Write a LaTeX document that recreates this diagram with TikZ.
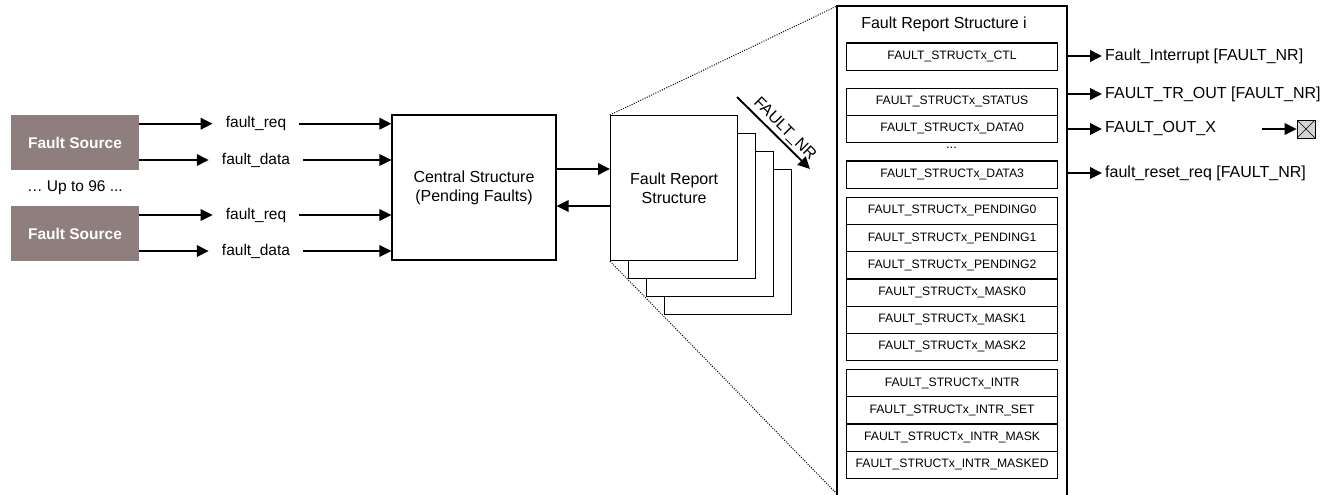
\documentclass[tikz,border=0pt]{standalone}
\usepackage{fontspec}
\setmainfont{Liberation Sans}
\usetikzlibrary{arrows.meta,calc}
\definecolor{srcfill}{HTML}{8E7F7E}
\definecolor{termfill}{HTML}{D4D4D4}
\tikzset{
  sig/.style={line width=1.9pt,-{Triangle[length=12pt,width=11.5pt]}},
  srcbox/.style={fill=srcfill,text=white,font=\fontsize{15.5}{18}\selectfont\bfseries,
    minimum width=128pt,minimum height=55pt,inner sep=0pt},
  blockbox/.style={draw,line width=1.2pt,fill=white,inner sep=0pt,align=center,
    font=\fontsize{16}{19}\selectfont},
  reg/.style={draw,line width=1.2pt,minimum width=211pt,minimum height=27.2pt,
    inner sep=0pt,anchor=north west,font=\fontsize{12.2}{14}\selectfont},
  siglbl/.style={font=\fontsize{15.5}{18}\selectfont,inner xsep=13pt,inner ysep=2pt},
  outlbl/.style={font=\fontsize{16}{19}\selectfont,anchor=west,inner xsep=3pt,inner ysep=2pt},
  zoomline/.style={line width=1pt,dash pattern=on 1pt off 1.4pt}
}
\begin{document}
\begin{tikzpicture}[x=1pt,y=-1pt]
\useasboundingbox (0,0) rectangle (1330,495);
\clip (0,0) rectangle (1330,495);

% fault sources
\node[srcbox] (fs1) at (75,142.5) {Fault Source};
\node[srcbox] (fs2) at (75,233.5) {Fault Source};
\node[font=\fontsize{15.5}{18}\selectfont] (upto) at (75,188) {\ldots{} Up to 96 ...};

% central structure
\node[blockbox,minimum width=164pt,minimum height=145pt] (cs) at (474,187.5)
  {Central Structure\\(Pending Faults)};

% signal labels between sources and central structure
\node[siglbl] (req1)  at (256,123.7) {fault\_req};
\node[siglbl] (data1) at (256,160)   {fault\_data};
\node[siglbl] (req2)  at (256,215)   {fault\_req};
\node[siglbl] (data2) at (256,251)   {fault\_data};

\foreach \l in {req1,data1}{
  \draw[sig] (fs1.east |- \l) -- (\l.west);
  \draw[sig] (\l.east) -- (cs.west |- \l);
}
\foreach \l in {req2,data2}{
  \draw[sig] (fs2.east |- \l) -- (\l.west);
  \draw[sig] (\l.east) -- (cs.west |- \l);
}

% stacked fault report structures (back to front)
\node[blockbox,minimum width=127pt,minimum height=145pt,anchor=north west] (frs4) at (664,169) {};
\node[blockbox,minimum width=127pt,minimum height=145pt,anchor=north west] (frs3) at (646,151) {};
\node[blockbox,minimum width=127pt,minimum height=145pt,anchor=north west] (frs2) at (628,133) {};
\node[blockbox,minimum width=127pt,minimum height=145pt,anchor=north west] (frs) at (610,115)
  {Fault Report\\Structure};

% links between central structure and report structure
\coordinate (fwd) at (0,169);
\coordinate (bwd) at (0,206);
\draw[sig] (cs.east |- fwd) -- (frs.west |- fwd);
\draw[sig] (frs.west |- bwd) -- (cs.east |- bwd);

% instance index arrow
\coordinate (nrA) at (737,97);
\coordinate (nrB) at (810,169);
\draw[sig] (nrA) -- (nrB);
\node[font=\fontsize{16}{19}\selectfont,rotate=-45,anchor=south,inner sep=3pt] (nrlbl)
  at ($(nrA)!0.55!(nrB)$) {FAULT\_NR};

% detailed view of one report structure
\node[draw=none,minimum width=230pt,minimum height=495pt,anchor=north west,inner sep=0pt] (frsi) at (837,6) {};
\draw[line width=2pt] (frsi.south west) -- (frsi.north west) -- (frsi.north east) -- (frsi.south east);
\node[font=\fontsize{16}{19}\selectfont] (title) at (944,24) {Fault Report Structure i};

\node[reg] (ctl)   at (846,42.5)  {FAULT\_STRUCTx\_CTL};
\node[reg] (stat)  at (846,87.5)  {FAULT\_STRUCTx\_STATUS};
\node[reg] (dat0)  at (846,114.7) {FAULT\_STRUCTx\_DATA0};
\node[font=\fontsize{13}{14}\selectfont] (rdots) at (951.5,148) {...};
\node[reg] (dat3)  at (846,160.3) {FAULT\_STRUCTx\_DATA3};
\node[reg] (pnd0)  at (846,196.7) {FAULT\_STRUCTx\_PENDING0};
\node[reg] (pnd1)  at (846,223.9) {FAULT\_STRUCTx\_PENDING1};
\node[reg] (pnd2)  at (846,251.1) {FAULT\_STRUCTx\_PENDING2};
\node[reg] (msk0)  at (846,278.3) {FAULT\_STRUCTx\_MASK0};
\node[reg] (msk1)  at (846,305.5) {FAULT\_STRUCTx\_MASK1};
\node[reg] (msk2)  at (846,332.7) {FAULT\_STRUCTx\_MASK2};
\node[reg] (intr)  at (846,369)   {FAULT\_STRUCTx\_INTR};
\node[reg] (iset)  at (846,396.2) {FAULT\_STRUCTx\_INTR\_SET};
\node[reg] (imsk)  at (846,423.4) {FAULT\_STRUCTx\_INTR\_MASK};
\node[reg] (imskd) at (846,450.6) {FAULT\_STRUCTx\_INTR\_MASKED};

% zoom guides
\coordinate (guideEnd) at (837,494);
\draw[zoomline] (frs.north west) -- (frsi.north west);
\draw[zoomline] (frs.south west) -- (guideEnd);

% outputs
\coordinate (oInt) at (1102,56);
\coordinate (oTr)  at (1102,94);
\coordinate (oX)   at (1102,129);
\coordinate (oRst) at (1102,173);
\node[outlbl] (lInt) at (oInt) {Fault\_Interrupt [FAULT\_NR]};
\node[outlbl] (lTr)  at (oTr)  {FAULT\_TR\_OUT [FAULT\_NR]};
\node[outlbl] (lX)   at (oX)   {FAULT\_OUT\_X};
\node[outlbl] (lRst) at (oRst) {fault\_reset\_req [FAULT\_NR]};
\foreach \l in {lInt,lTr,lX,lRst}{
  \draw[sig] (frsi.east |- \l.west) -- (\l.west);
}

% unconnected terminal
\node[draw,line width=0.8pt,fill=termfill,minimum size=18pt,inner sep=0pt,
  path picture={\draw[line width=0.6pt] (path picture bounding box.north west) -- (path picture bounding box.south east)
     (path picture bounding box.south west) -- (path picture bounding box.north east);}]
  (term) at (1306,129) {};
\coordinate (tstart) at (1262,129);
\draw[sig] (tstart) -- (term.west);
\end{tikzpicture}
\end{document}
